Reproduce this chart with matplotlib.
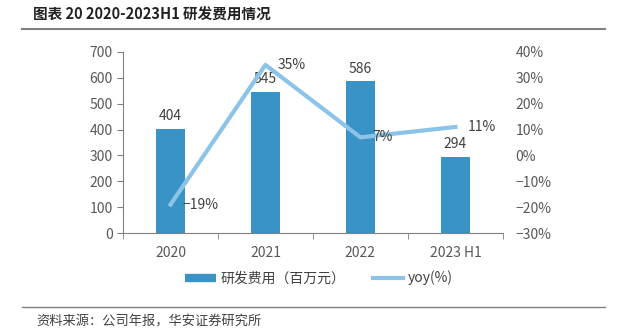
import numpy as np
import matplotlib.pyplot as plt
from matplotlib.lines import Line2D

plt.rcParams['font.family'] = ['Noto Sans CJK SC', 'DejaVu Sans']

# data
years = ['2020', '2021', '2022', '2023 H1']
rd_expense = [404, 545, 586, 294]
yoy = [-19, 35, 7, 11]
yoy_labels = ['\u221219%', '35%', '7%', '11%']
yoy_ticks = [-30, -20, -10, 0, 10, 20, 30, 40]

bar_color = '#3A93C6'
line_color = '#8CC3E8'
text_color = '#404040'
tick_color = '#595959'

fig = plt.figure(figsize=(6.29, 3.31), dpi=100)
ax = fig.add_axes([0.1955, 0.296, 0.604, 0.547])
ax2 = ax.twinx()

x = np.arange(len(years))
bars = ax.bar(x, rd_expense, width=0.31, color=bar_color, zorder=2)
ax.set_xlim(-0.5, len(years) - 0.5)
ax.set_ylim(0, 700)
ax.set_yticks(range(0, 701, 100))

for xi, v in zip(x, rd_expense):
    ax.text(xi, v + 22, str(v), ha='center', va='bottom', fontsize=10, color=text_color)

line, = ax2.plot(x, yoy, color=line_color, lw=3, zorder=3)
ax2.set_ylim(-30, 40)
ax2.set_yticks(yoy_ticks)
ax2.set_yticklabels([f'{t}%'.replace('-', '\u2212') for t in yoy_ticks])
for xi, v, lab in zip(x, yoy, yoy_labels):
    ax2.text(xi + 0.13, v, lab, ha='left', va='center', fontsize=10, color=text_color)

# x axis with ticks between categories
ax.set_xticks(x)
ax.set_xticklabels(years)
ax.set_xticks(np.arange(-0.5, len(years), 1), minor=True)
ax.tick_params(axis='x', which='major', length=0, pad=9, labelsize=10, labelcolor=tick_color)
ax.tick_params(axis='x', which='minor', length=4, color='#808080')
ax.tick_params(axis='y', length=4, color='#808080', labelsize=10, labelcolor=tick_color)
ax2.tick_params(axis='y', length=0, labelsize=10, labelcolor=tick_color, pad=9)

for s in ['top', 'right']:
    ax.spines[s].set_visible(False)
for s in ['top', 'right', 'left', 'bottom']:
    ax2.spines[s].set_visible(False)
ax.spines['left'].set_color('#808080')
ax.spines['bottom'].set_color('#808080')

bar_handle = Line2D([], [], color=bar_color, lw=6, solid_capstyle='butt')
line_handle = Line2D([], [], color=line_color, lw=3)
fig.legend([bar_handle, line_handle], ['研发费用（百万元）', 'yoy(%)'], loc='center', ncol=2,
           bbox_to_anchor=(0.507, 0.16), frameon=False, fontsize=10,
           handlelength=2.2, handletextpad=0.3, columnspacing=2, labelcolor=text_color)

# title and rules
fig.text(0.052, 0.955, '图表 20 2020-2023H1 研发费用情况', fontsize=10.5, fontweight='bold',
         va='center', ha='left', color='#222222')
fig.add_artist(Line2D([0.035, 0.962], [0.912, 0.912], color='#808080', lw=1.5))
fig.add_artist(Line2D([0.035, 0.962], [0.072, 0.072], color='#808080', lw=1))
fig.text(0.058, 0.027, '资料来源：公司年报，华安证券研究所', fontsize=9.5, va='center',
         ha='left', color='#404040')

fig.savefig('out.png', dpi=100)
